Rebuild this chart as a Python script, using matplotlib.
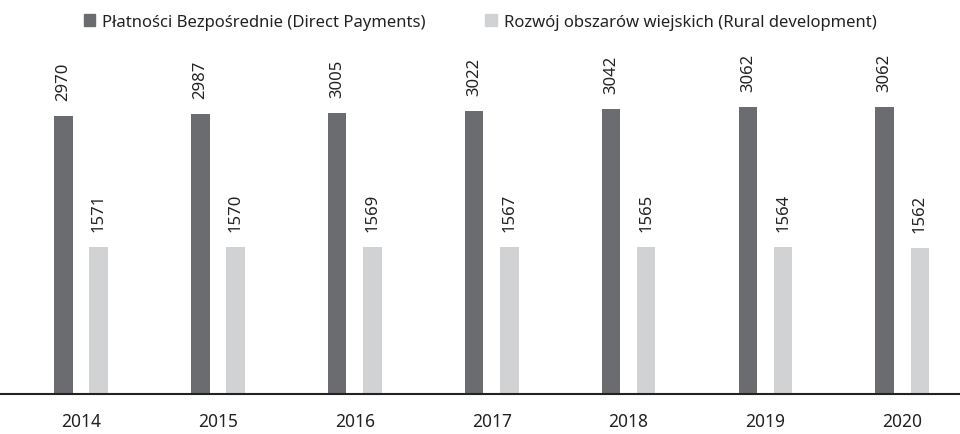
import numpy as np
import matplotlib.pyplot as plt
from matplotlib.patches import Patch

years = ['2014', '2015', '2016', '2017', '2018', '2019', '2020']
direct_payments = [2970, 2987, 3005, 3022, 3042, 3062, 3062]
rural_development = [1571, 1570, 1569, 1567, 1565, 1564, 1562]

labels = ['Płatności Bezpośrednie (Direct Payments)',
          'Rozwój obszarów wiejskich (Rural development)']
colors = ['#6b6c70', '#d1d2d4']
text_color = '#222222'

plt.rcParams['font.family'] = ['Noto Sans', 'DejaVu Sans']

fig = plt.figure(figsize=(9.6, 4.35), dpi=100)
ax = fig.add_axes([0, 0.093, 1, 0.752])

x = np.arange(len(years))
w = 0.135
off = 0.129

b1 = ax.bar(x - off, direct_payments, w, color=colors[0])
b2 = ax.bar(x + off, rural_development, w, color=colors[1])

for bars, vals in ((b1, direct_payments), (b2, rural_development)):
    for rect, v in zip(bars, vals):
        ax.annotate(str(v), (rect.get_x() + rect.get_width() / 2, v),
                    xytext=(0, 11.5), textcoords='offset points',
                    rotation=90, ha='center', va='bottom',
                    fontsize=12, color=text_color)

ax.set_xlim(-0.592, 6.421)
ax.set_ylim(0, 3500)
ax.set_xticks(x)
ax.set_xticklabels(years, fontsize=12.5, color=text_color)
ax.tick_params(axis='x', length=0, pad=13)
ax.set_yticks([])
for s in ('top', 'right', 'left'):
    ax.spines[s].set_visible(False)
ax.spines['bottom'].set_color(text_color)
ax.spines['bottom'].set_linewidth(1.5)

handles = [Patch(color=c, label=l) for c, l in zip(colors, labels)]
fig.legend(handles=handles, loc='upper center', bbox_to_anchor=(0.5, 1.0),
           ncol=2, frameon=False, fontsize=12, handlelength=0.7,
           handleheight=0.7, handletextpad=0.4, columnspacing=3.6,
           labelcolor=text_color)

fig.savefig('out.png', dpi=100)
